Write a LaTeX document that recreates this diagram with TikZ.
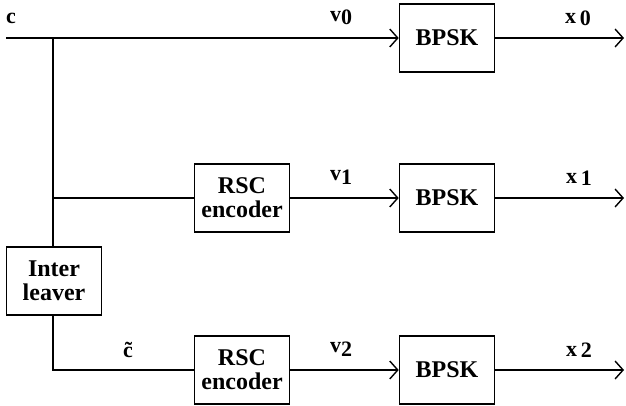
\documentclass[tikz,border=0pt]{standalone}
\usepackage{fontspec}
\setmainfont{Liberation Serif}
\usetikzlibrary{arrows.meta}
\tikzset{
  blk/.style={draw, line width=1.6pt, fill=white, minimum width=95pt, minimum height=68pt, inner sep=0pt, align=center, font=\fontsize{24}{24}\selectfont\bfseries},
  wire/.style={line width=1.6pt},
  arr/.style={wire, -{Straight Barb[length=8pt,width=18pt,line width=1.4pt]}},
  lbl/.style={font=\fontsize{22}{22}\selectfont\bfseries, inner sep=0pt}
}
\begin{document}
\begin{tikzpicture}[x=1pt,y=-1pt]
\useasboundingbox (0,0) rectangle (626,406);
\node[blk] (bpsk0) at (447,38) {BPSK};
\node[blk] (bpsk1) at (447,198) {BPSK};
\node[blk] (bpsk2) at (447,370) {BPSK};
\node[blk] (rsc1) at (242,198) {RSC\\encoder};
\node[blk] (rsc2) at (242,370) {RSC\\encoder};
\node[blk] (inter) at (54,281) {Inter\\leaver};
\coordinate (in) at (6,38);
\coordinate (j0) at (53,38);
\coordinate (j1) at (53,198);
\coordinate (o0) at (624,38);
\coordinate (o1) at (624,198);
\coordinate (o2) at (624,370);
\draw[arr] (in) -- (bpsk0.west);
\draw[wire] (j0) -- (j0 |- inter.north);
\draw[wire] (j1) -- (rsc1.west);
\draw[wire] (inter.south -| j0) |- (rsc2.west);
\draw[arr] (rsc1) -- (bpsk1);
\draw[arr] (rsc2) -- (bpsk2);
\draw[arr] (bpsk0) -- (o0);
\draw[arr] (bpsk1) -- (o1);
\draw[arr] (bpsk2) -- (o2);
\node[lbl] (lc) at (11,18) {c};
\node[lbl] (lct) at (128,350) {\~{c}};
\node[lbl] (lv0) at (341,17) {v\raisebox{-0.3ex}{0}};
\node[lbl] (lx0) at (578,18) {x\,\raisebox{-0.15ex}{0}};
\node[lbl] (lv1) at (341,177) {v\raisebox{-0.35ex}{1}};
\node[lbl] (lx1) at (579,178) {x\,\raisebox{-0.2ex}{1}};
\node[lbl] (lv2) at (341,349) {v\raisebox{-0.35ex}{2}};
\node[lbl] (lx2) at (579,350) {x\,\raisebox{-0.1ex}{2}};
\end{tikzpicture}
\end{document}
